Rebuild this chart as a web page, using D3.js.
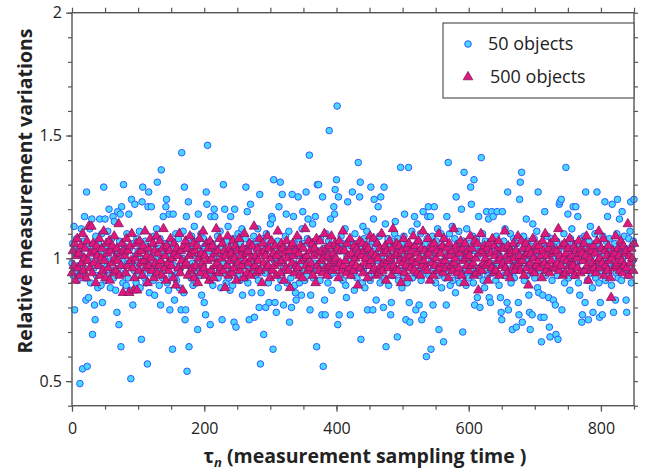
<!DOCTYPE html>
<html><head><meta charset="utf-8">
<script src="https://cdn.jsdelivr.net/npm/d3@7"></script>
<style>body{margin:0;background:#fff}text{font-family:"Open Sans",sans-serif;fill:#222}</style>
</head><body><svg id="c" width="654" height="473"></svg>
<script>
const xMajorTicks=[0,200,400,600,800];
const yMajorTicks=[0.5,1,1.5,2];
const seriesNames=["50 objects","500 objects"];
const objects50=[
0.98,1.06,0.93,1.13,0.79,1.02,0.95,1.08,0.91,1.04,
0.97,1.03,0.49,0.94,1.12,1.01,0.55,0.96,1.07,1.17,
0.92,0.83,1.27,0.56,1.05,0.84,0.99,1.12,0.90,1.03,
1.16,0.69,1.04,0.96,0.81,0.75,1.09,0.93,1.01,0.88,
1.06,0.97,1.16,1.02,0.89,1.10,0.82,0.94,1.29,1.00,
1.16,0.91,1.05,0.97,1.11,0.93,1.20,1.03,0.88,0.99,
1.08,0.95,1.17,0.92,1.15,1.04,0.87,1.01,0.78,1.19,
0.96,0.73,1.07,1.18,0.64,1.21,0.99,0.90,1.30,1.05,
0.94,1.02,0.89,1.10,0.98,0.92,1.18,1.04,0.87,0.51,
1.24,0.98,0.81,1.06,0.95,1.22,1.01,0.90,1.08,0.97,
1.03,0.93,1.11,0.88,1.00,0.67,1.23,1.29,0.95,1.04,
0.92,1.07,0.90,0.99,0.57,1.21,1.27,0.86,1.02,0.94,
1.21,0.97,1.05,0.91,1.09,0.85,1.00,0.94,1.12,1.31,
0.96,1.04,0.89,1.08,0.81,1.36,0.98,0.92,1.17,1.03,
0.95,1.06,1.21,1.24,0.90,1.01,0.87,1.18,0.79,0.99,
1.07,0.93,0.63,1.18,0.97,0.83,1.05,1.10,0.91,1.02,
0.94,1.08,0.88,1.03,0.96,0.79,1.43,1.00,1.11,0.86,
1.29,0.75,0.79,1.17,0.54,1.04,1.23,0.64,0.97,1.06,
0.92,1.09,0.98,0.89,1.05,1.13,0.95,1.01,0.90,1.07,
0.71,1.18,0.99,1.04,0.93,1.10,0.85,1.02,0.96,1.08,
0.82,1.05,0.77,1.27,1.22,1.46,0.94,1.03,0.91,0.73,
1.17,0.95,1.06,0.89,1.00,1.20,1.17,0.93,1.04,0.97,
1.09,0.92,1.02,0.96,1.11,0.88,1.04,0.75,0.98,1.30,
0.94,1.20,1.03,0.90,1.07,0.97,1.13,0.92,1.01,0.87,
1.17,0.95,1.05,0.89,1.08,0.74,1.20,0.99,0.72,1.04,
0.93,1.10,0.97,1.02,0.91,1.06,0.96,1.12,0.85,1.00,
1.04,0.92,1.08,1.29,0.97,1.19,0.90,1.03,0.75,1.06,
1.22,0.98,0.86,1.05,0.94,1.09,0.76,1.01,0.93,1.07,
0.96,1.12,0.91,0.80,1.26,0.57,0.86,1.03,0.95,1.08,
0.69,1.02,0.94,0.80,1.10,0.97,1.05,0.90,0.82,1.06,
1.14,0.96,1.17,1.16,0.63,1.32,0.99,0.82,1.04,0.78,
0.93,1.07,0.88,1.21,1.00,1.31,0.91,1.05,1.26,0.97,
0.81,1.04,0.95,1.09,1.18,0.90,1.02,0.96,1.11,0.74,
1.03,0.92,0.80,1.26,0.98,1.17,1.06,0.89,0.86,0.83,
1.01,0.94,1.25,1.08,0.90,1.04,0.97,0.85,1.12,1.19,
0.95,1.06,0.91,1.00,1.27,0.93,1.08,1.16,0.97,1.42,
0.79,0.85,1.05,0.96,1.14,0.92,1.02,0.98,1.17,1.07,
0.64,1.30,0.95,1.30,1.03,0.91,1.08,0.98,0.77,1.25,
0.56,1.04,0.83,0.77,1.10,0.96,1.02,0.90,1.07,1.52,
0.93,1.16,1.00,0.87,1.05,0.94,1.21,1.18,1.28,0.97,
1.32,1.62,0.73,1.25,0.77,1.03,0.92,1.09,0.98,1.06,
0.91,1.04,0.96,1.12,0.89,0.84,1.01,1.23,0.95,1.07,
0.99,0.77,1.05,0.93,1.27,1.02,0.94,0.87,1.10,0.97,
1.06,0.92,1.01,1.39,0.96,1.25,1.31,0.67,1.04,0.90,
1.13,0.95,1.08,0.88,1.02,0.97,1.11,0.79,1.00,0.93,
1.05,0.91,1.29,0.98,1.07,0.79,1.16,1.24,0.95,1.03,
0.83,1.06,0.94,1.21,0.99,1.09,0.90,1.25,1.01,0.96,
1.04,0.80,1.29,0.92,1.14,0.64,1.02,0.97,1.08,0.89,
0.99,1.05,0.77,0.82,1.07,0.93,1.01,0.96,1.10,1.15,
0.94,1.03,0.68,1.08,0.91,1.00,0.95,1.37,1.06,0.88,
1.02,0.93,1.09,1.18,0.97,0.75,1.04,0.90,1.06,1.37,
0.82,0.74,1.01,0.96,1.11,0.92,1.05,0.98,1.17,0.94,
0.79,1.03,1.14,0.95,1.07,0.81,0.99,1.10,0.91,0.75,
1.02,1.19,0.77,0.94,1.06,0.97,0.60,1.08,1.17,1.21,
0.93,1.04,1.17,0.63,0.99,1.09,0.81,0.96,1.21,1.02,
0.90,1.07,0.97,1.12,0.93,0.71,1.03,0.95,1.10,0.88,
1.05,0.96,0.66,1.08,0.92,1.01,0.81,1.17,0.98,1.39,
0.94,1.10,0.89,1.04,0.97,1.13,0.91,1.02,0.96,1.08,
0.86,1.25,0.99,1.06,0.93,1.11,0.90,1.03,0.95,1.20,
1.01,0.70,1.07,1.35,0.96,1.04,0.89,1.12,0.94,1.00,
0.92,1.06,0.98,1.29,1.22,0.95,1.09,0.90,1.32,0.81,
1.03,0.96,1.08,0.84,1.01,1.17,0.93,0.80,1.05,1.41,
0.97,1.10,0.91,1.04,0.88,1.07,0.95,1.19,1.02,0.93,
1.16,0.84,1.05,0.82,0.98,1.19,0.94,1.17,1.08,0.96,
1.03,0.91,1.09,1.19,0.97,1.06,0.89,1.01,0.84,0.78,
0.75,1.19,0.99,1.07,0.93,1.12,0.96,1.04,0.82,1.27,
0.79,1.02,0.94,1.10,0.90,1.05,0.71,0.97,1.08,0.92,
1.01,0.95,0.72,1.06,0.98,0.82,0.77,1.24,1.31,1.03,
1.35,0.74,0.96,1.09,0.91,1.04,0.99,1.16,0.93,1.07,
1.00,0.85,0.78,0.71,1.05,0.97,0.77,1.14,0.94,1.08,
0.92,1.03,0.96,1.11,0.88,1.27,0.86,1.01,0.95,0.76,
0.66,1.06,0.85,0.99,0.76,1.19,0.93,1.04,0.97,1.09,
0.95,0.84,0.72,0.68,1.02,1.08,0.91,1.00,0.83,1.05,
0.96,0.81,0.69,1.07,0.93,0.67,1.03,1.22,1.23,0.98,
1.24,0.79,1.05,0.94,1.10,0.90,1.01,1.37,0.97,1.06,
1.18,0.92,1.04,0.87,1.08,0.98,1.12,0.95,1.21,1.00,
0.93,1.06,1.21,0.97,1.03,1.17,0.90,1.05,0.85,0.99,
1.08,0.74,0.77,1.02,0.95,1.09,0.82,1.27,0.96,1.04,
0.91,0.75,1.07,0.99,1.13,0.94,1.01,0.88,0.78,1.05,
0.97,1.10,0.92,1.03,1.27,0.96,1.06,0.90,0.76,0.82,
1.04,0.95,0.77,1.09,0.98,1.02,1.23,0.91,1.07,0.94,
1.17,1.00,0.93,1.08,0.96,1.04,0.89,1.22,1.01,0.78,
0.97,1.06,0.83,0.94,1.10,1.24,0.92,1.03,1.16,0.98,
1.05,0.91,1.19,1.00,0.95,1.09,0.97,1.04,0.83,0.78,
1.02,0.93,1.08,0.96,1.11,1.23,0.90,1.05,0.99,1.07,
1.24];
const objects500=[
0.94,1.03,0.97,1.06,0.91,1.01,1.08,0.96,1.02,0.93,
1.05,0.98,1.10,0.95,1.00,1.04,0.92,1.07,0.99,1.13,
0.96,1.02,1.13,0.94,1.06,0.98,1.03,0.90,1.05,1.01,
0.97,1.08,0.93,1.00,1.04,0.95,1.11,0.99,0.92,1.06,
1.02,0.96,1.07,0.91,1.03,0.98,1.05,0.94,1.09,1.00,
0.95,1.04,0.99,1.14,0.93,1.02,0.97,1.06,0.86,1.03,
1.01,0.94,1.08,0.97,1.03,0.86,1.05,0.99,1.10,0.96,
0.87,0.92,1.00,1.06,0.87,1.02,0.95,1.07,0.98,1.03,
0.93,1.05,0.99,1.11,0.96,1.01,0.90,1.04,0.97,1.08,
1.00,0.95,1.06,0.92,1.03,0.98,1.09,0.94,1.02,0.97,
1.07,0.99,0.93,1.04,1.12,0.96,1.01,0.91,1.05,0.98,
0.95,1.03,1.08,0.97,1.00,0.92,1.06,1.02,0.89,1.04,
1.01,0.96,1.10,0.94,1.03,0.99,0.87,1.05,0.97,1.07,
0.98,1.04,0.93,1.01,1.09,0.95,1.02,0.96,1.06,0.92,
1.03,0.97,1.05,0.90,1.00,1.08,0.94,1.02,0.98,1.11,
0.96,1.01,0.93,1.06,0.99,1.04,0.91,1.07,0.95,1.00,
1.05,0.92,1.02,0.97,1.12,0.98,1.03,0.94,1.08,0.96,
1.00,1.06,0.95,1.03,0.88,1.01,0.97,1.09,0.93,1.04,
0.99,1.02,0.94,1.07,0.96,1.00,1.05,0.91,1.03,0.98,
1.08,0.95,1.01,0.97,1.04,0.92,1.10,0.99,1.02,0.94,
1.03,0.98,1.06,0.93,1.00,1.05,0.96,1.13,0.97,1.01,
0.94,1.04,0.99,1.08,0.95,1.02,0.90,1.06,0.98,1.03,
1.01,0.96,1.09,0.97,1.04,0.92,1.00,1.07,0.95,1.02,
0.97,1.05,0.93,1.01,1.11,0.98,1.03,0.94,1.06,0.99,
1.04,0.91,1.02,0.96,1.07,1.00,0.95,1.03,0.88,1.05,
0.98,1.06,1.01,0.94,1.03,0.97,1.09,0.96,1.02,0.93,
1.05,0.99,0.92,1.04,1.00,1.12,0.97,1.01,0.95,1.07,
0.96,1.03,0.98,1.06,0.93,1.01,1.04,0.90,1.08,0.97,
1.02,0.95,1.07,0.99,1.03,0.94,1.00,1.10,0.96,1.04,
0.93,1.01,0.97,1.05,0.98,1.09,0.95,1.02,0.99,1.06,
1.00,0.96,1.04,0.92,1.07,0.98,1.03,0.95,1.11,0.97,
1.03,0.99,0.94,1.06,1.01,0.96,1.08,0.93,1.02,0.98,
0.95,1.05,1.00,0.97,1.04,0.89,1.02,1.07,0.96,1.01,
1.06,0.94,1.03,0.98,1.00,1.05,0.92,1.04,0.97,1.09,
0.99,1.02,0.95,1.08,0.96,1.01,0.93,1.06,1.00,0.94,
1.04,0.97,1.10,0.95,1.02,0.98,1.05,0.91,1.03,0.99,
0.96,1.07,1.00,0.93,1.04,1.12,0.97,1.01,0.95,1.06,
1.02,0.95,1.05,0.99,0.90,1.03,0.98,1.08,0.94,1.00,
0.97,1.04,0.92,1.06,1.01,0.96,1.03,0.99,1.09,0.95,
1.05,0.98,1.02,0.94,1.07,1.00,0.93,1.04,0.97,1.11,
0.99,1.03,0.96,1.01,0.95,1.08,1.02,0.91,1.05,0.98,
1.04,0.93,1.06,0.97,1.00,1.03,0.95,1.10,0.96,1.02,
0.98,1.05,0.94,1.08,0.99,0.96,1.04,1.01,0.92,1.06,
1.01,0.97,1.03,0.95,1.12,0.98,1.00,1.05,0.94,1.03,
0.96,1.02,1.07,0.93,1.04,0.99,0.90,1.06,1.00,0.97,
1.03,0.95,1.01,1.09,0.97,1.04,0.98,0.93,1.07,1.00,
0.94,1.06,0.87,1.02,0.96,1.10,0.95,1.03,0.98,1.05,
1.00,0.97,1.04,0.91,1.06,0.98,1.02,0.96,1.08,0.94,
1.05,1.01,0.95,1.03,0.99,1.07,0.93,1.00,1.04,0.97,
0.98,1.04,1.11,0.96,1.01,0.94,1.05,0.99,0.92,1.03,
1.02,0.96,1.06,1.00,0.95,1.03,0.97,1.09,0.98,1.01,
0.95,1.07,0.99,1.04,0.93,1.01,1.06,0.96,1.02,0.89,
1.04,0.98,1.02,0.95,1.08,1.00,0.94,1.05,0.97,1.03,
0.99,1.05,0.96,1.01,0.92,1.07,1.03,0.98,1.10,0.95,
1.01,0.97,1.04,0.94,1.06,0.99,1.02,0.96,1.03,1.08,
0.96,1.03,0.98,1.12,0.95,1.01,0.97,1.05,0.93,1.00,
1.06,0.94,1.02,0.99,1.04,0.97,1.08,0.95,1.01,0.98,
0.97,1.05,0.93,1.03,1.00,0.96,1.07,1.02,0.94,1.04,
1.02,0.99,1.06,0.95,1.01,1.09,0.97,0.91,1.04,1.00,
0.95,1.03,0.98,1.05,0.96,1.02,0.94,1.07,0.99,1.11,
1.00,0.96,1.04,0.98,1.08,0.93,1.03,0.97,1.01,0.95,
1.05,0.99,0.92,0.84,1.00,1.03,0.96,1.02,1.09,0.97,
0.98,1.04,1.01,0.95,1.07,0.99,0.94,1.05,0.97,1.02,
1.03,0.96,1.14,0.93,1.01,0.98,1.04,1.00,0.95,1.06];
const tau50=d3.range(0,objects50.length);                      // one 50-object sample per time step
const tau500=objects500.map((d,i)=>i*850/(objects500.length-1)); // 500-object samples spread over the same span

const svg=d3.select("#c");
const L=72,R=634,T=12.7,B=405.7;
const x=d3.scaleLinear().domain([0,850]).range([L,R]);
const y=d3.scaleLinear().domain([0.4,2]).range([B,T]);
const xMinor=d3.range(0,851,50), yMinor=d3.range(4,21).map(d=>d/10);
const axisCol="#555";
const cFill="#48d8ff",cStroke="#2f5cff",tFill="#e0187c",tStroke="#7e1a66";

const gPts=svg.append("g");
gPts.selectAll("circle").data(objects50).join("circle")
  .attr("cx",(d,i)=>x(tau50[i])).attr("cy",d=>y(d)).attr("r",3.3)
  .attr("fill",cFill).attr("stroke",cStroke).attr("stroke-width",1);
const tri=d3.symbol(d3.symbolTriangle,40);
gPts.selectAll("path").data(objects500).join("path")
  .attr("d",tri).attr("transform",(d,i)=>`translate(${x(tau500[i])},${y(d)})`)
  .attr("fill",tFill).attr("stroke",tStroke).attr("stroke-width",0.8);

function styleAxis(g){g.select(".domain").remove();g.selectAll("line").attr("stroke",axisCol).attr("stroke-width",1.2);g.selectAll("text").attr("fill","#222").style("font-size","16px").style("font-family","Open Sans");}
svg.append("g").attr("transform",`translate(0,${B})`).call(d3.axisBottom(x).tickValues(xMinor).tickSize(4).tickFormat("")).call(styleAxis);
svg.append("g").attr("transform",`translate(0,${B})`).call(d3.axisBottom(x).tickValues(xMajorTicks).tickSize(6).tickPadding(11).tickFormat(d3.format("d"))).call(styleAxis);
svg.append("g").attr("transform",`translate(0,${T})`).call(d3.axisTop(x).tickValues(xMinor).tickSize(5).tickFormat("")).call(styleAxis);
svg.append("g").attr("transform",`translate(${L},0)`).call(d3.axisLeft(y).tickValues(yMinor).tickSize(4).tickFormat("")).call(styleAxis);
svg.append("g").attr("transform",`translate(${L},0)`).call(d3.axisLeft(y).tickValues(yMajorTicks).tickSize(6).tickPadding(4).tickFormat(d=>String(d))).call(styleAxis);
svg.append("g").attr("transform",`translate(${R},0)`).call(d3.axisRight(y).tickValues(yMinor).tickSize(4).tickFormat("")).call(styleAxis);
svg.append("rect").attr("x",L).attr("y",T).attr("width",R-L).attr("height",B-T)
  .attr("fill","none").attr("stroke",axisCol).attr("stroke-width",1.4);

const lg=svg.append("g");
lg.append("rect").attr("x",443).attr("y",23).attr("width",R-443).attr("height",75)
  .attr("fill","#fff").attr("stroke",axisCol).attr("stroke-width",1.2);
lg.append("circle").attr("cx",468).attr("cy",44).attr("r",3.3)
  .attr("fill",cFill).attr("stroke",cStroke);
lg.append("path").attr("d",tri).attr("transform","translate(468,77)")
  .attr("fill",tFill).attr("stroke",tStroke).attr("stroke-width",0.8);
lg.append("text").attr("x",488).attr("y",50).style("font-size","18px").text(seriesNames[0]);
lg.append("text").attr("x",490).attr("y",83).style("font-size","18px").text(seriesNames[1]);

svg.append("text").attr("transform","translate(32,191) rotate(-90)").attr("text-anchor","middle")
  .style("font-size","19.5px").style("font-weight","bold").text("Relative measurement variations");
const xt=svg.append("text").attr("x",365).attr("y",463).attr("text-anchor","middle")
  .style("font-size","19.5px").style("font-weight","bold");
xt.append("tspan").text("τ");
xt.append("tspan").attr("dy",4).style("font-size","13px").style("font-style","italic").text("n");
xt.append("tspan").attr("dy",-4).text(" (measurement sampling time )");
</script></body></html>
